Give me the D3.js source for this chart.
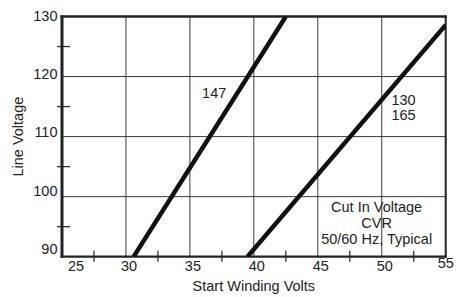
<!DOCTYPE html>
<html><head><meta charset="utf-8">
<script src="https://cdn.jsdelivr.net/npm/d3@7"></script>
<style>body{margin:0;background:#fff}svg{display:block}text{font-family:"Liberation Sans",Arial,sans-serif;fill:#222}</style>
</head><body>
<script>
// Data
const xTicks = [25, 30, 35, 40, 45, 50, 55];
const xMinor = [27.5, 32.5, 37.5, 42.5, 47.5, 52.5];
const xGrid = [30, 35, 40, 45, 50];
const yTicks = [90, 100, 110, 120, 130];
const yMinor = [95, 105, 115, 125];
const yGrid = [100, 110, 120];
const series147 = [[30.6, 90], [42.5, 130]];
const series130_165 = [[39.5, 90], [55, 128.6]];
const seriesLabels = [
  {lines: ["147"], at: [36.9, 116.4]},
  {lines: ["130", "165"], at: [51.7, 115.3]}
];
const noteLines = ["Cut In Voltage", "CVR", "50/60 Hz, Typical"];
const xTitle = "Start Winding Volts";
const yTitle = "Line Voltage";

const W = 460, H = 297;
const FS = 14.5;
const m = {l: 62, r: 14.3, t: 16.5, b: 40.3};
const svg = d3.select("body").append("svg").attr("width", W).attr("height", H);
const x = d3.scaleLinear().domain([25, 55]).range([m.l, W - m.r]);
const y = d3.scaleLinear().domain([90, 130]).range([H - m.b, m.t]);

svg.append("defs").append("clipPath").attr("id", "pc").append("rect")
  .attr("x", x(25)).attr("y", y(130)).attr("width", x(55) - x(25)).attr("height", y(90) - y(130));

// grid
svg.append("g").selectAll("line").data(xGrid).join("line")
  .attr("x1", d => x(d)).attr("x2", d => x(d)).attr("y1", y(130)).attr("y2", y(90))
  .attr("stroke", "#3a3a3a").attr("stroke-width", 1);
svg.append("g").selectAll("line").data(yGrid).join("line")
  .attr("y1", d => y(d)).attr("y2", d => y(d)).attr("x1", x(25)).attr("x2", x(55))
  .attr("stroke", "#3a3a3a").attr("stroke-width", 1);

// minor ticks
svg.append("g").selectAll("line").data(xMinor).join("line")
  .attr("x1", d => x(d)).attr("x2", d => x(d)).attr("y1", y(90) - 6).attr("y2", y(90) + 5)
  .attr("stroke", "#333").attr("stroke-width", 1.3);
svg.append("g").selectAll("line").data(yMinor).join("line")
  .attr("y1", d => y(d)).attr("y2", d => y(d)).attr("x1", x(25) - 5).attr("x2", x(25) + 8)
  .attr("stroke", "#333").attr("stroke-width", 1.3);

// frame
const fr = svg.append("g").attr("stroke", "#222").attr("fill", "none");
fr.append("line").attr("x1", x(25) - 1.5).attr("x2", x(55) + 1).attr("y1", y(130)).attr("y2", y(130)).attr("stroke-width", 2.3);
fr.append("line").attr("x1", x(25) - 1.5).attr("x2", x(55) + 1).attr("y1", y(90)).attr("y2", y(90)).attr("stroke-width", 2.3);
fr.append("line").attr("x1", x(25)).attr("x2", x(25)).attr("y1", y(130) - 1).attr("y2", y(90) + 1).attr("stroke-width", 3);
fr.append("line").attr("x1", x(55)).attr("x2", x(55)).attr("y1", y(130) - 1).attr("y2", y(90) + 1).attr("stroke-width", 2);

// series lines
const line = d3.line().x(d => x(d[0])).y(d => y(d[1]));
svg.append("g").attr("clip-path", "url(#pc)").selectAll("path").data([series147, series130_165]).join("path")
  .attr("d", line).attr("fill", "none").attr("stroke", "#111").attr("stroke-width", 4.5);

// tick labels
svg.append("g").selectAll("text").data(xTicks).join("text")
  .attr("x", d => d === 25 ? x(d) + 6 : x(d) + (d === 55 ? 0 : 3))
  .attr("y", d => d === 55 ? y(90) + 11.5 : y(90) + 14)
  .attr("text-anchor", d => d === 25 ? "start" : "middle")
  .attr("font-size", FS).text(d => d);
svg.append("g").selectAll("text").data(yTicks).join("text")
  .attr("x", x(25) - 4.5).attr("y", d => y(d) + 4 - (130 - d) * 0.17)
  .attr("text-anchor", "end").attr("font-size", FS).text(d => d);

// series labels
seriesLabels.forEach(s => {
  const t = svg.append("text").attr("font-size", FS).attr("text-anchor", "middle");
  s.lines.forEach((ln, i) => t.append("tspan").attr("x", x(s.at[0])).attr("y", y(s.at[1]) + i * 15.7).text(ln));
});

// note
const nt = svg.append("text").attr("font-size", FS).attr("text-anchor", "middle");
noteLines.forEach((ln, i) => nt.append("tspan").attr("x", x(49.6)).attr("y", y(90) - 45 + i * 16.3).text(ln));

// axis titles
svg.append("text").attr("x", (x(25) + x(55)) / 2).attr("y", 291).attr("text-anchor", "middle").attr("font-size", FS).text(xTitle);
svg.append("text").attr("transform", `translate(23,${(y(90) + y(130)) / 2}) rotate(-90)`).attr("text-anchor", "middle").attr("font-size", FS).text(yTitle);
</script>
</body></html>
